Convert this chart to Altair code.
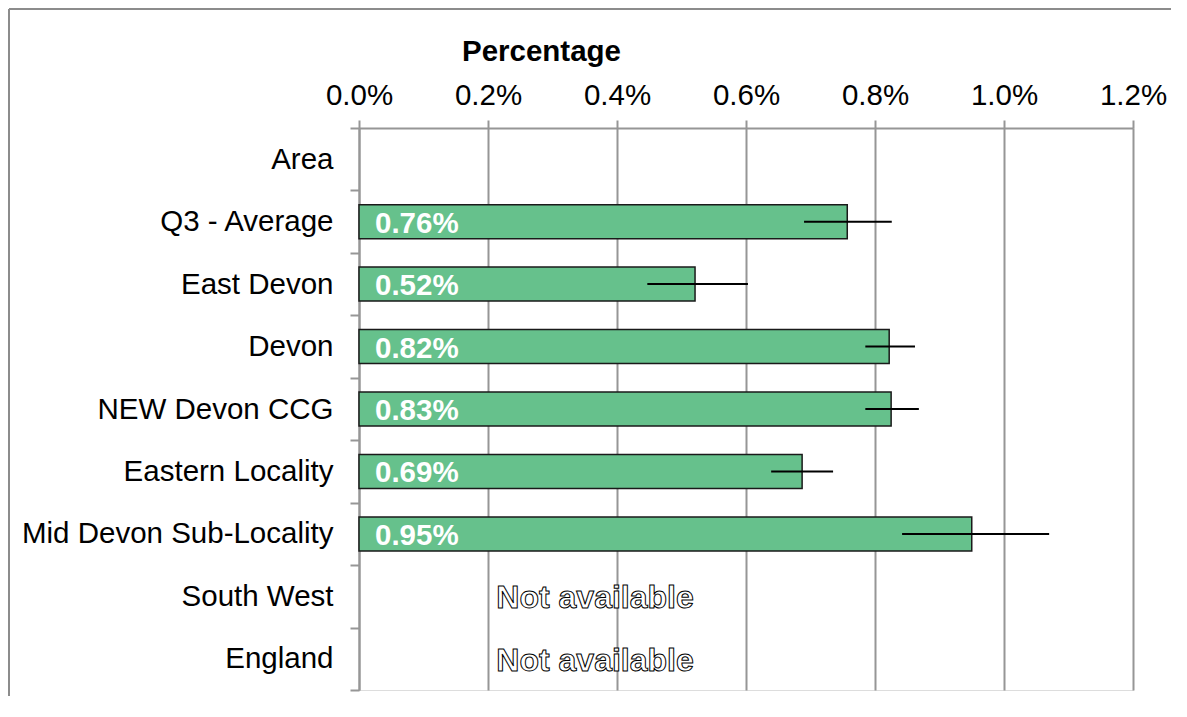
import altair as alt
import pandas as pd

categories = ["Area", "Q3 - Average", "East Devon", "Devon", "NEW Devon CCG",
              "Eastern Locality", "Mid Devon Sub-Locality", "South West", "England"]
values = [None, 0.757, 0.521, 0.822, 0.825, 0.687, 0.95, None, None]
lower = [None, 0.69, 0.447, 0.785, 0.785, 0.639, 0.842, None, None]
upper = [None, 0.826, 0.603, 0.862, 0.868, 0.735, 1.07, None, None]
value_labels = ["", "0.76%", "0.52%", "0.82%", "0.83%", "0.69%", "0.95%", "", ""]
na_categories = ["South West", "England"]
na_text = "Not available"
na_position = 0.366
x_ticks = [0.0, 0.2, 0.4, 0.6, 0.8, 1.0, 1.2]

df = pd.DataFrame({
    "Area": categories,
    "value": [v / 100 if v is not None else None for v in values],
    "lo": [v / 100 if v is not None else None for v in lower],
    "hi": [v / 100 if v is not None else None for v in upper],
    "label": value_labels,
})
df_bars = df.dropna(subset=["value"])
df_na = pd.DataFrame({"Area": na_categories, "pos": [na_position / 100] * len(na_categories),
                      "text": [na_text] * len(na_categories)})

FONT = "Liberation Sans"
FS = 29.5
GRID = "#969696"

y_enc = alt.Y("Area:N", sort=categories,
              scale=alt.Scale(domain=categories, paddingInner=0, paddingOuter=0),
              axis=alt.Axis(title=None, tickBand="extent", labelFontSize=FS, labelFont=FONT,
                            labelColor="black", labelPadding=17, labelLimit=0, tickSize=9,
                            tickColor=GRID, tickWidth=2, domainColor=GRID,
                            domainWidth=2, grid=False))
x_scale = alt.Scale(domain=[0, 0.012], nice=False)
x_axis = alt.Axis(orient="top", values=[t / 100 for t in x_ticks], format=".1%",
                  title="Percentage", titleFont=FONT, titleFontSize=FS, titleFontWeight="bold",
                  titleColor="black", titleX=182, titleY=-68, titleBaseline="alphabetic",
                  titleAlign="center",
                  labelFont=FONT, labelFontSize=FS, labelColor="black", labelPadding=10,
                  labelFlush=False, labelOverlap=False,
                  tickSize=8, tickColor=GRID, tickWidth=2, domainColor=GRID,
                  domainWidth=2, grid=True, gridColor=GRID, gridWidth=2)

base = alt.Chart(df_bars)

bars = base.mark_bar(height=34, color="#66c18c", stroke="#1a1a1a", strokeWidth=1.5).encode(
    x=alt.X("value:Q", scale=x_scale, axis=x_axis),
    y=y_enc,
)
errs = base.mark_rule(color="black", strokeWidth=2).encode(
    x=alt.X("lo:Q", scale=x_scale), x2="hi:Q", y=alt.Y("Area:N", sort=categories),
)
labels = base.mark_text(align="left", baseline="middle", dx=16, dy=2, font=FONT, fontSize=FS,
                        fontWeight="bold", color="white").encode(
    x=alt.datum(0), y=alt.Y("Area:N", sort=categories), text="label:N",
)
na = alt.Chart(df_na).mark_text(align="center", baseline="middle", dy=2, font=FONT, fontSize=32,
                                fontWeight="bold", fill="white", stroke="black",
                                strokeWidth=1.0).encode(
    x=alt.X("pos:Q", scale=x_scale), y=alt.Y("Area:N", sort=categories), text="text:N",
)
# Chart-area border (decorative frame: left and top edges)
frame_left = alt.Chart(df_bars.head(1)).mark_rule(color="#8c8c8c", strokeWidth=2).encode(
    x=alt.value(-350), y=alt.value(-119), y2=alt.value(568))
frame_top = alt.Chart(df_bars.head(1)).mark_rule(color="#8c8c8c", strokeWidth=2).encode(
    x=alt.value(-350), x2=alt.value(812), y=alt.value(-119))

chart = alt.layer(frame_left, frame_top, bars, errs, labels, na).properties(
    width=774, height=562,
    autosize=alt.AutoSizeParams(type="none"),
    padding={"left": 351, "top": 120, "right": 45, "bottom": 8},
).configure_view(stroke=None).configure(background="white")

chart.save("out.html", embed_options={"renderer": "svg", "actions": False})
